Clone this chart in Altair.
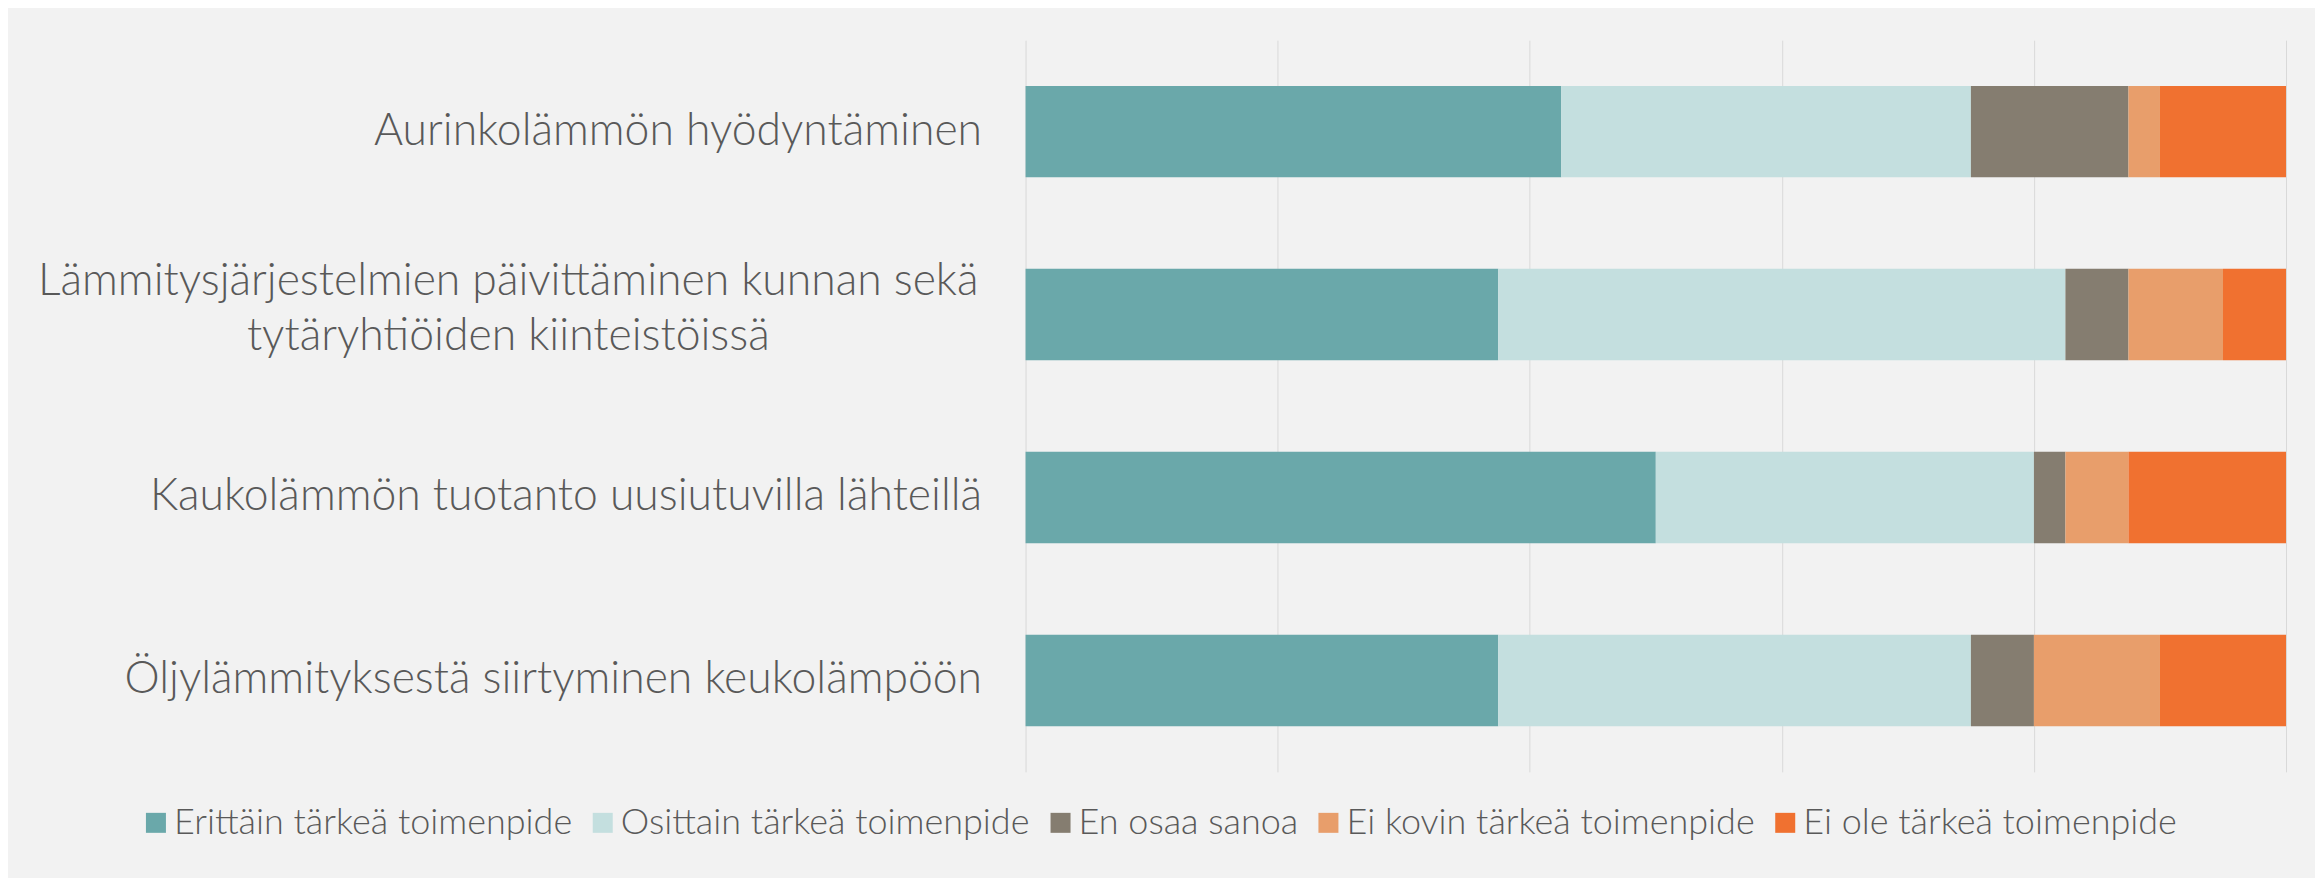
import altair as alt
import pandas as pd

categories = [
    "Aurinkolämmön hyödyntäminen",
    "Lämmitysjärjestelmien päivittäminen kunnan sekä|tytäryhtiöiden kiinteistöissä",
    "Kaukolämmön tuotanto uusiutuvilla lähteillä",
    "Öljylämmityksestä siirtyminen keukolämpöön",
]
responses = [
    "Erittäin tärkeä toimenpide",
    "Osittain tärkeä toimenpide",
    "En osaa sanoa",
    "Ei kovin tärkeä toimenpide",
    "Ei ole tärkeä toimenpide",
]
colors = ["#6aa8aa", "#c4dfdf", "#857d70", "#e89e6b", "#f07130"]

erittain = [42.5, 37.5, 50.0, 37.5]
osittain = [32.5, 45.0, 30.0, 37.5]
en_osaa = [12.5, 5.0, 2.5, 5.0]
ei_kovin = [2.5, 7.5, 5.0, 10.0]
ei_ole = [10.0, 5.0, 12.5, 10.0]

series = [erittain, osittain, en_osaa, ei_kovin, ei_ole]
rows = []
for ri, (resp, vals) in enumerate(zip(responses, series)):
    for cat, v in zip(categories, vals):
        rows.append({"category": cat, "response": resp, "value": v, "ord": ri})
df = pd.DataFrame(rows)

FONT = "Lato"
TXT = "#595959"
multi_test = "indexof(datum.value, '|') >= 0"

chart = (
    alt.Chart(df)
    .mark_bar()
    .encode(
        y=alt.Y(
            "category:N",
            sort=categories,
            scale=alt.Scale(paddingInner=0.5, paddingOuter=0.25),
            axis=alt.Axis(
                title=None,
                labelExpr="split(datum.label, '|')",
                labelFont=FONT,
                labelFontSize=44.5,
                labelFontWeight=300,
                labelColor=TXT,
                labelLimit=0,
                labelLineHeight=55,
                ticks=False,
                domain=False,
                grid=False,
                labelAlign={"condition": {"test": multi_test, "value": "center"}, "value": "right"},
                labelPadding={"condition": {"test": multi_test, "value": 518}, "value": 44},
                labelOffset={"condition": {"test": multi_test, "value": -33}, "value": 0},
            ),
        ),
        x=alt.X(
            "value:Q",
            stack="normalize",
            scale=alt.Scale(domain=[0, 1], nice=False),
            axis=alt.Axis(
                title=None,
                labels=False,
                ticks=False,
                domain=False,
                grid=True,
                values=[0, 0.2, 0.4, 0.6, 0.8, 1.0],
                gridColor="#d9d9d9",
                gridWidth=1,
            ),
        ),
        color=alt.Color(
            "response:N",
            sort=responses,
            scale=alt.Scale(domain=responses, range=colors),
            legend=alt.Legend(
                title=None,
                orient="none",
                direction="horizontal",
                legendX=-888,
                legendY=765,
                symbolType="square",
                symbolSize=400,
                symbolStrokeWidth=0,
                labelFont=FONT,
                labelFontSize=36,
                labelFontWeight=300,
                labelColor=TXT,
                labelLimit=0,
                labelOffset=0,
                columnPadding=12,
            ),
        ),
        order=alt.Order("ord:Q"),
    )
    .properties(
        width=1261,
        height=732,
        background="#f2f2f2",
        padding={"left": 1018, "top": 32, "right": 29, "bottom": 106},
        autosize=alt.AutoSizeParams(type="none"),
    )
    .configure_view(stroke=None)
)

chart.save("out.html", embed_options={"renderer": "svg", "actions": False})
